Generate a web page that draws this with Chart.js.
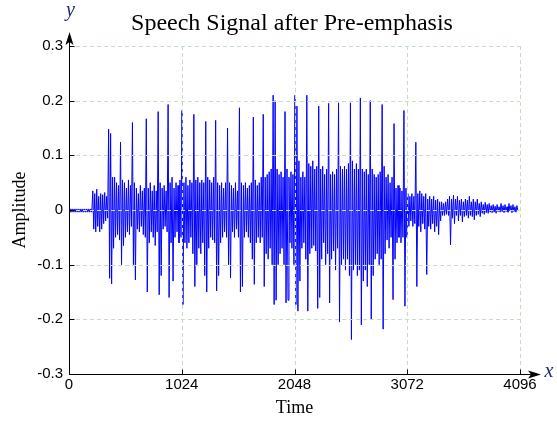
<!DOCTYPE html>
<html lang="en">
<head>
    <meta charset="UTF-8">
    <title>Speech Signal after Pre-emphasis</title>
    <script src="https://cdn.jsdelivr.net/npm/chart.js"></script>
    <style>
        html, body { margin: 0; padding: 0; background: #fff; }
        #wrap { width: 557px; height: 424px; }
    </style>
</head>
<body>
    <div id="wrap"><canvas id="speechChart"></canvas></div>

    <script>
        const chartTitle = 'Speech Signal after Pre-emphasis';
        const xTicks = [0, 1024, 2048, 3072, 4096];
        const yTicks = [-0.3, -0.2, -0.1, 0, 0.1, 0.2, 0.3];

        // each bin is 18 samples wide: its peak, then its trough
        const binSize = 18;
        const binMax = [
            0.002, 0.002, 0.002, 0.002, 0.002, 0.002, 0.002, 0.002, 0.002, 0.002, 0.002, 0.002,
            0.035, 0.03, 0.038, 0.025, 0.03, 0.028, 0.032, 0.025,
            0.148, 0.14, 0.06, 0.06, 0.05, 0.045, 0.124, 0.055, 0.05, 0.04,
            0.055, 0.045, 0.16, 0.05, 0.04, 0.03, 0.045, 0.035, 0.04, 0.167,
            0.04, 0.05, 0.035, 0.045, 0.035, 0.18, 0.05, 0.04, 0.045, 0.035,
            0.193, 0.05, 0.06, 0.04, 0.05, 0.045, 0.055, 0.182, 0.05, 0.06,
            0.045, 0.055, 0.05, 0.175, 0.055, 0.06, 0.05, 0.055, 0.05, 0.162,
            0.06, 0.055, 0.05, 0.06, 0.164, 0.05, 0.045, 0.05, 0.04, 0.05,
            0.15, 0.05, 0.045, 0.04, 0.05, 0.035, 0.187, 0.05, 0.045, 0.05,
            0.04, 0.045, 0.05, 0.17, 0.055, 0.045, 0.05, 0.06, 0.175, 0.06,
            0.065, 0.07, 0.075, 0.21, 0.2, 0.075, 0.065, 0.07, 0.06, 0.18,
            0.075, 0.06, 0.07, 0.065, 0.21, 0.19, 0.09, 0.06, 0.07, 0.06,
            0.21, 0.085, 0.08, 0.09, 0.075, 0.08, 0.19, 0.075, 0.08, 0.065,
            0.075, 0.195, 0.065, 0.07, 0.065, 0.075, 0.196, 0.08, 0.075, 0.08,
            0.075, 0.085, 0.196, 0.09, 0.075, 0.085, 0.075, 0.205, 0.075, 0.07,
            0.075, 0.065, 0.2, 0.075, 0.065, 0.06, 0.065, 0.07, 0.193, 0.08,
            0.06, 0.065, 0.05, 0.06, 0.158, 0.04, 0.045, 0.04, 0.035, 0.182,
            0.04, 0.03, 0.025, 0.03, 0.025, 0.124, 0.03, 0.035, 0.03, 0.025,
            0.03, 0.02, 0.025, 0.02, 0.025, 0.018, 0.02, 0.015, 0.015, 0.012,
            0.015, 0.02, 0.025, 0.02, 0.027, 0.02, 0.025, 0.018, 0.02, 0.015,
            0.02, 0.018, 0.025, 0.015, 0.02, 0.015, 0.02, 0.012, 0.015, 0.01,
            0.014, 0.01, 0.012, 0.008, 0.01, 0.007, 0.01, 0.006, 0.012, 0.008,
            0.01, 0.006, 0.012, 0.008, 0.01, 0.006, 0.008
        ];
        const binMin = [
            -0.004, -0.004, -0.004, -0.004, -0.004, -0.004, -0.004, -0.004, -0.004, -0.004, -0.004, -0.004,
            -0.035, -0.04, -0.03, -0.04, -0.035, -0.025, -0.02, -0.015,
            -0.125, -0.135, -0.07, -0.05, -0.045, -0.055, -0.1, -0.065, -0.05, -0.04,
            -0.045, -0.03, -0.1, -0.128, -0.035, -0.04, -0.03, -0.045, -0.05, -0.15,
            -0.06, -0.04, -0.05, -0.065, -0.04, -0.155, -0.12, -0.035, -0.03, -0.04,
            -0.16, -0.06, -0.13, -0.05, -0.04, -0.06, -0.05, -0.173, -0.06, -0.07,
            -0.06, -0.05, -0.08, -0.14, -0.1, -0.07, -0.08, -0.06, -0.12, -0.15,
            -0.07, -0.05, -0.055, -0.06, -0.148, -0.12, -0.06, -0.05, -0.04, -0.05,
            -0.1, -0.124, -0.04, -0.05, -0.035, -0.05, -0.15, -0.14, -0.05, -0.04,
            -0.05, -0.06, -0.09, -0.136, -0.06, -0.05, -0.06, -0.05, -0.14, -0.08,
            -0.09, -0.07, -0.1, -0.173, -0.165, -0.1, -0.08, -0.07, -0.1, -0.17,
            -0.165, -0.06, -0.07, -0.1, -0.173, -0.185, -0.13, -0.07, -0.06, -0.09,
            -0.185, -0.08, -0.07, -0.065, -0.075, -0.18, -0.16, -0.09, -0.06, -0.1,
            -0.08, -0.17, -0.09, -0.075, -0.11, -0.07, -0.205, -0.1, -0.09, -0.11,
            -0.09, -0.12, -0.237, -0.11, -0.1, -0.12, -0.11, -0.21, -0.13, -0.11,
            -0.14, -0.1, -0.2, -0.12, -0.09, -0.08, -0.1, -0.09, -0.218, -0.08,
            -0.055, -0.07, -0.05, -0.164, -0.09, -0.06, -0.05, -0.06, -0.05, -0.176,
            -0.05, -0.03, -0.02, -0.03, -0.025, -0.14, -0.03, -0.04, -0.025, -0.035,
            -0.118, -0.03, -0.035, -0.025, -0.04, -0.03, -0.045, -0.02, -0.01, -0.01,
            -0.008, -0.01, -0.064, -0.015, -0.025, -0.01, -0.02, -0.01, -0.022, -0.012,
            -0.01, -0.015, -0.01, -0.012, -0.018, -0.01, -0.008, -0.012, -0.006, -0.008,
            -0.005, -0.006, -0.004, -0.005, -0.004, -0.006, -0.003, -0.004, -0.003, -0.005,
            -0.003, -0.004, -0.002, -0.005, -0.003, -0.004, -0.002
        ];

        const points = [];
        binMax.forEach((hi, i) => {
            points.push({ x: i * binSize, y: hi });
            points.push({ x: i * binSize + binSize / 2, y: binMin[i] });
        });

        // dashed grid drawn over the trace, like the original figure
        const dashedGrid = {
            id: 'dashedGrid',
            afterDatasetsDraw(chart) {
                const { ctx, chartArea: a, scales: { x, y } } = chart;
                ctx.save();
                ctx.strokeStyle = '#c2dfc2';
                ctx.lineWidth = 1;
                ctx.setLineDash([4, 3]);
                ctx.beginPath();
                xTicks.slice(1).forEach(v => {
                    const px = Math.round(x.getPixelForValue(v)) + 0.5;
                    ctx.moveTo(px, a.top);
                    ctx.lineTo(px, a.bottom);
                });
                yTicks.slice(1).forEach(v => {
                    const py = Math.round(y.getPixelForValue(v)) + 0.5;
                    ctx.moveTo(a.left, py);
                    ctx.lineTo(a.right, py);
                });
                ctx.stroke();
                ctx.restore();
            }
        };

        // axes with arrows, inner tick marks, title, x / y letters
        const decor = {
            id: 'decor',
            afterDraw(chart) {
                const { ctx, chartArea: a, scales: { x, y } } = chart;
                ctx.save();
                ctx.fillStyle = '#000';
                ctx.font = '24px "Liberation Serif"';
                ctx.textAlign = 'center';
                ctx.textBaseline = 'middle';
                ctx.fillText(chartTitle, 292, 24);

                const ax = Math.round(a.left) + 0.5;
                const ay = Math.round(a.bottom) + 0.5;
                ctx.strokeStyle = '#000';
                ctx.lineWidth = 1;
                ctx.beginPath();
                ctx.moveTo(ax, ay);
                ctx.lineTo(ax, a.top - 12);
                ctx.moveTo(ax, ay);
                ctx.lineTo(a.right + 18, ay);
                xTicks.forEach(v => {
                    const px = Math.round(x.getPixelForValue(v)) + 0.5;
                    ctx.moveTo(px, ay);
                    ctx.lineTo(px, ay - 5);
                });
                yTicks.forEach(v => {
                    const py = Math.round(y.getPixelForValue(v)) + 0.5;
                    ctx.moveTo(ax, py);
                    ctx.lineTo(ax + 5, py);
                });
                ctx.stroke();

                // arrow heads
                ctx.beginPath();
                ctx.moveTo(ax, a.top - 14);
                ctx.lineTo(ax - 4, a.top - 1);
                ctx.lineTo(ax, a.top - 4);
                ctx.lineTo(ax + 4, a.top - 1);
                ctx.closePath();
                ctx.fill();
                ctx.beginPath();
                ctx.moveTo(a.right + 21, ay);
                ctx.lineTo(a.right + 8, ay - 4);
                ctx.lineTo(a.right + 11, ay);
                ctx.lineTo(a.right + 8, ay + 4);
                ctx.closePath();
                ctx.fill();

                ctx.fillStyle = '#1f2a6e';
                ctx.font = 'italic 20px "Liberation Serif"';
                ctx.fillText('y', ax + 1, 11);
                ctx.fillText('x', a.right + 29, ay - 3);
                ctx.restore();
            }
        };

        const tickFont = { family: '"Liberation Sans", Arial', size: 15 };
        const titleFont = { family: '"Liberation Serif", "Times New Roman"', size: 18 };

        new Chart(document.getElementById('speechChart'), {
            type: 'line',
            data: {
                datasets: [{
                    label: 'Pre-emphasised speech',
                    data: points,
                    borderColor: '#0000ff',
                    borderWidth: 1,
                    pointRadius: 0,
                    tension: 0,
                    fill: false
                }]
            },
            options: {
                responsive: true,
                maintainAspectRatio: false,
                animation: false,
                events: [],
                layout: { padding: { top: 46, right: 37, bottom: 0, left: 0 } },
                plugins: {
                    legend: { display: false },
                    tooltip: { enabled: false },
                    title: { display: false }
                },
                scales: {
                    x: {
                        type: 'linear',
                        min: 0,
                        max: 4096,
                        afterBuildTicks: s => { s.ticks = xTicks.map(v => ({ value: v })); },
                        afterFit: s => { s.height = 50; },
                        grid: { display: false, drawTicks: false },
                        border: { display: false },
                        ticks: { color: '#000', font: tickFont, padding: 2, maxRotation: 0, callback: v => String(v) },
                        title: { display: true, text: 'Time', color: '#000', font: titleFont, padding: { top: 0, bottom: 5 } }
                    },
                    y: {
                        min: -0.3,
                        max: 0.3,
                        afterBuildTicks: s => { s.ticks = yTicks.map(v => ({ value: v })); },
                        afterFit: s => { s.width = 69; },
                        grid: { display: false, drawTicks: false },
                        border: { display: false },
                        ticks: { color: '#000', font: tickFont, padding: 6, callback: v => String(Math.round(v * 10) / 10) },
                        title: { display: true, text: 'Amplitude', color: '#000', font: titleFont, padding: { top: 9, bottom: 0 } }
                    }
                }
            },
            plugins: [dashedGrid, decor]
        });
    </script>
</body>
</html>
